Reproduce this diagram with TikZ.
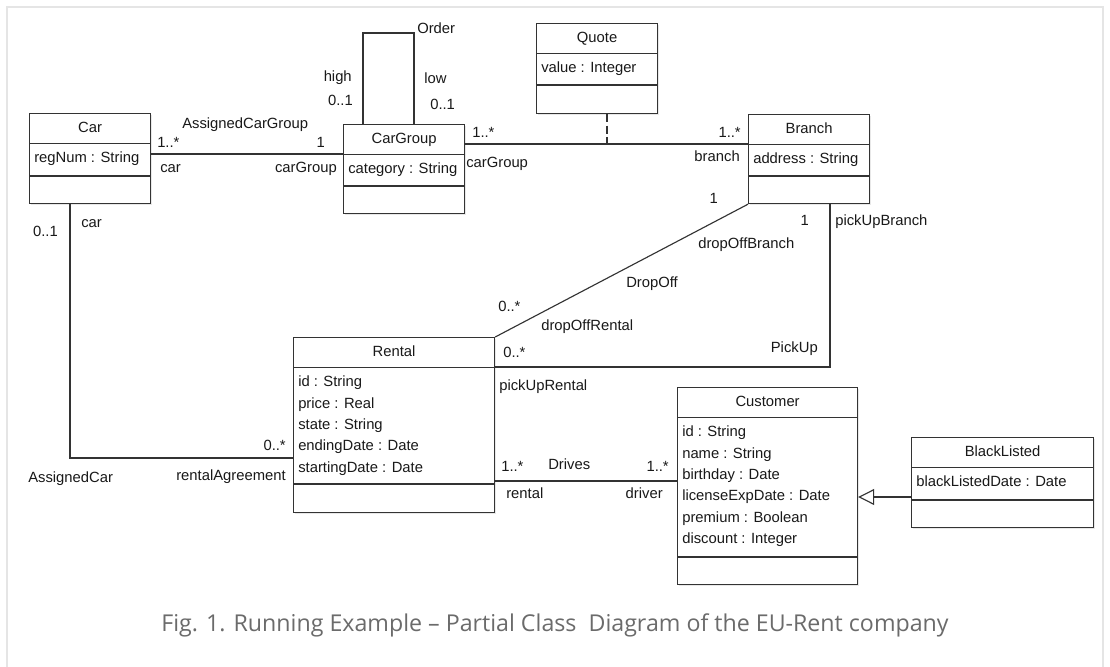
\documentclass[tikz,border=0pt]{standalone}
\usepackage{fontspec}
\setmainfont{Liberation Sans}
\newfontfamily\capfont{Open Sans}
\usetikzlibrary{calc,arrows.meta,shadows}

\newcommand{\umlclass}[8]{% #1 name, #2 x, #3 y, #4 w, #5 h, #6 second line offset, #7 title, #8 attributes
  \node[classbox, minimum width=#4*0.75pt, minimum height=#5*0.75pt] (#1) at (#2,#3) {};
  \draw[conn] ($(#1.north west)+(0,30.5)$) -- ($(#1.north east)+(0,30.5)$);
  \draw[conn] ($(#1.north west)+(0,#6)$) -- ($(#1.north east)+(0,#6)$);
  \node[lbl] (#1-title) at ($(#1.north)+(0,15)$) {#7};
  \foreach \attr [count=\i] in {#8} {
    \node[lbl, anchor=west] (#1-a\i) at ($(#1.north west)+(5,{31+14+(\i-1)*21.4})$) {\attr};
  }
}

\begin{document}
\begin{tikzpicture}[x=0.75pt,y=-0.75pt,
  lbl/.style={font=\fontsize{11.1}{13}\selectfont, inner sep=0pt, text height=7pt, text depth=0pt, text=black!90},
  classbox/.style={draw=black!80, fill=white, line width=0.9pt, inner sep=0pt, anchor=north west,
    drop shadow={opacity=0.18, shadow xshift=1.2pt, shadow yshift=-1.2pt}},
  conn/.style={draw=black!80, line width=0.85pt},
  gen/.style={conn, -{Triangle[open, length=12pt, width=12pt, fill=white]}},
  dep/.style={conn, dash pattern=on 6pt off 2.5pt}]

\useasboundingbox (0,0) rectangle (1110,667);
\fill[white] (0,0) rectangle (1110,667);
\draw[black!10, line width=1.5pt] (7,667) -- (7,7) -- (1103,7) -- (1103,667);

% classes
\umlclass{car}{29}{113}{121}{90}{63}{Car}{regNum : String}
\umlclass{cargroup}{343}{124}{121}{89}{62}{CarGroup}{category : String}
\umlclass{quote}{536}{23}{121}{90}{62}{Quote}{value : Integer}
\umlclass{branch}{748}{114}{121}{89}{62}{Branch}{address : String}
\umlclass{rental}{293}{337}{201}{175}{147}{Rental}{id : String, price : Real, state : String, endingDate : Date, startingDate : Date}
\umlclass{customer}{677}{387}{180}{197}{170}{Customer}{id : String, name : String, birthday : Date, licenseExpDate : Date, premium : Boolean, discount : Integer}
\umlclass{blacklisted}{911}{437}{182}{90}{63}{BlackListed}{blackListedDate : Date}

% helper coordinates
\coordinate (y154) at (0,154);
\coordinate (y144) at (0,144);
\coordinate (y458) at (0,458);
\coordinate (y367) at (0,367);
\coordinate (y481) at (0,481);
\coordinate (y497) at (0,497);
\coordinate (x70) at (70,0);
\coordinate (x830) at (830,0);
\coordinate (x607) at (607,0);
\coordinate (loopl) at (363,33);
\coordinate (loopr) at (414,33);

% AssignedCarGroup
\draw[conn] (car.east |- y154) -- (cargroup.west |- y154);
\node[lbl, anchor=west] (acg-name) at (182,124) {AssignedCarGroup};
\node[lbl, anchor=west] (acg-m1) at (157,143) {1..*};
\node[lbl, anchor=west] (acg-r1) at (160,168) {car};
\node[lbl, anchor=east] (acg-m2) at (325,143) {1};
\node[lbl, anchor=east] (acg-r2) at (337,168) {carGroup};

% Order (self association)
\draw[conn] (cargroup.north -| loopl) -- (loopl) -- (loopr) -- (cargroup.north -| loopr);
\node[lbl, anchor=west] (ord-name) at (417,29) {Order};
\node[lbl, anchor=east] (ord-r1) at (352,77) {high};
\node[lbl, anchor=east] (ord-m1) at (353,101) {0..1};
\node[lbl, anchor=west] (ord-r2) at (424,79) {low};
\node[lbl, anchor=west] (ord-m2) at (430,105) {0..1};

% CarGroup - Branch with association class Quote
\draw[conn] (cargroup.east |- y144) -- (branch.west |- y144);
\draw[dep] (quote.south -| x607) -- (x607 |- y144);
\node[lbl, anchor=west] (cb-m1) at (472,133) {1..*};
\node[lbl, anchor=west] (cb-r1) at (466,163) {carGroup};
\node[lbl, anchor=east] (cb-m2) at (741,133) {1..*};
\node[lbl, anchor=east] (cb-r2) at (740,157) {branch};

% AssignedCar
\draw[conn] (car.south -| x70) -- (x70 |- y458) -- (rental.west |- y458);
\node[lbl, anchor=east] (ac-m1) at (58,232) {0..1};
\node[lbl, anchor=west] (ac-r1) at (81,223) {car};
\node[lbl, anchor=west] (ac-name) at (28,478) {AssignedCar};
\node[lbl, anchor=east] (ac-r2) at (286,476) {rentalAgreement};
\node[lbl, anchor=east] (ac-m2) at (286,446) {0..*};

% DropOff
\draw[conn] (rental.north east) -- (branch.south west);
\node[lbl, anchor=east] (do-m2) at (718,199) {1};
\node[lbl, anchor=west] (do-r2) at (698,244) {dropOffBranch};
\node[lbl, anchor=west] (do-name) at (626,283) {DropOff};
\node[lbl, anchor=west] (do-m1) at (498,307) {0..*};
\node[lbl, anchor=west] (do-r1) at (541,326) {dropOffRental};

% PickUp
\draw[conn] (branch.south -| x830) -- (x830 |- y367) -- (rental.east |- y367);
\node[lbl, anchor=east] (pu-m2) at (809,221) {1};
\node[lbl, anchor=west] (pu-r2) at (835,221) {pickUpBranch};
\node[lbl, anchor=east] (pu-name) at (818,348) {PickUp};
\node[lbl, anchor=west] (pu-m1) at (503,353) {0..*};
\node[lbl, anchor=west] (pu-r1) at (499,386) {pickUpRental};

% Drives
\draw[conn] (rental.east |- y481) -- (customer.west |- y481);
\node[lbl, anchor=west] (dr-m1) at (501,467) {1..*};
\node[lbl, anchor=west] (dr-name) at (548,465) {Drives};
\node[lbl, anchor=east] (dr-m2) at (669,467) {1..*};
\node[lbl, anchor=west] (dr-r1) at (506,494) {rental};
\node[lbl, anchor=east] (dr-r2) at (663,494) {driver};

% Generalization
\draw[gen] (blacklisted.west |- y497) -- (customer.east |- y497);

% caption
\node[font=\capfont\fontsize{17.4}{21}\selectfont, text=black!58, inner sep=0pt] (caption) at (555,625)
  {Fig. 1. Running Example – Partial Class\ \ Diagram of the EU-Rent company};
\end{tikzpicture}
\end{document}
